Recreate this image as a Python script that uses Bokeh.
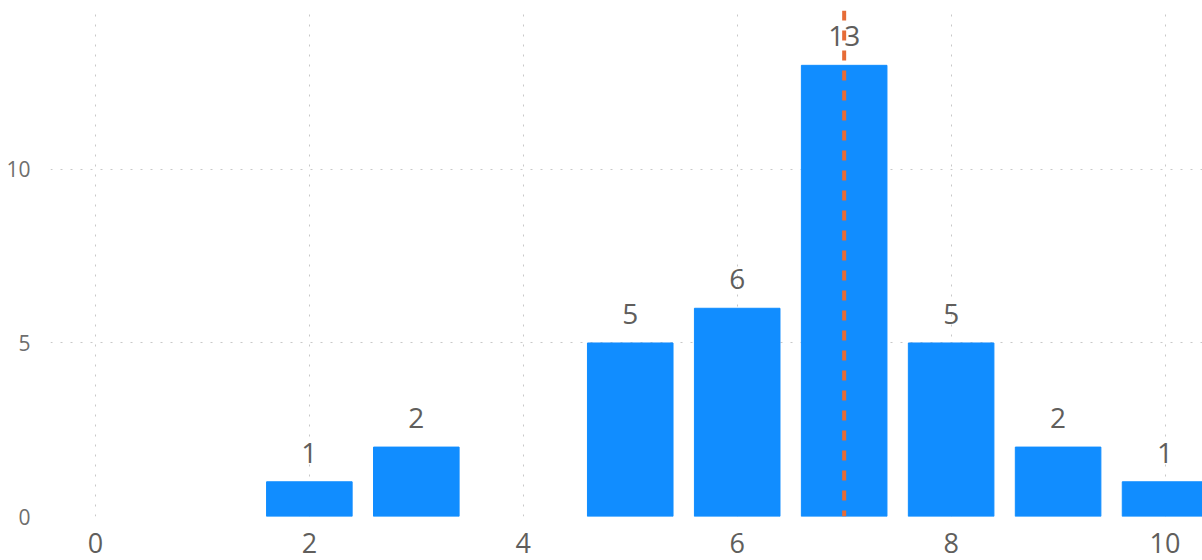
from bokeh.plotting import figure
from bokeh.models import ColumnDataSource, Span, FixedTicker, Range1d, LabelSet
from bokeh.core.properties import value
from bokeh.embed import file_html
from bokeh.resources import INLINE

bins = [2, 3, 5, 6, 7, 8, 9, 10]
counts = [1, 2, 5, 6, 13, 5, 2, 1]
labels = [str(c) for c in counts]
mean_line = 7
x_ticks = [0, 2, 4, 6, 8, 10]
y_ticks = [0, 5, 10]

src = ColumnDataSource(dict(x=bins, top=counts, label=labels))

p = figure(width=1202, height=560, output_backend="svg", toolbar_location=None,
           x_range=Range1d(-0.42, 10.35), y_range=Range1d(0, 14.58),
           min_border_left=50, min_border_right=0, min_border_top=10, min_border_bottom=44)
p.outline_line_color = None
p.background_fill_color = "white"

p.vbar(x="x", top="top", width=0.8, source=src, color="#118DFF", line_color="#118DFF")

p.add_layout(Span(location=mean_line, dimension="height", line_color="#E66C37",
                  line_width=4, line_dash="10 10"))

lab = LabelSet(x="x", y="top", text="label", source=src, text_align="center",
               text_baseline="bottom", y_offset=19, text_color="#605E5C",
               text_font_size="28px", text_font=value("Open Sans"))
p.add_layout(lab)

for ax in (p.xaxis, p.yaxis):
    ax.axis_line_color = None
    ax.major_tick_line_color = None
    ax.minor_tick_line_color = None
    ax.major_label_text_font = "Open Sans"
p.xaxis.ticker = FixedTicker(ticks=x_ticks)
p.yaxis.ticker = FixedTicker(ticks=y_ticks)
p.xaxis.major_label_text_font_size = "27px"
p.xaxis.major_label_text_color = "#605E5C"
p.xaxis.major_label_standoff = 10
p.yaxis.major_label_text_font_size = "21px"
p.yaxis.major_label_text_color = "#6E6E6E"
p.yaxis.major_label_standoff = 14

for g in (p.xgrid, p.ygrid):
    g.grid_line_color = "#C8C8C8"
    g.grid_line_dash = "2 8"
    g.grid_line_width = 1
p.xgrid.ticker = FixedTicker(ticks=x_ticks)
p.ygrid.ticker = FixedTicker(ticks=y_ticks)

open("out.html", "w").write(file_html(p, INLINE))
